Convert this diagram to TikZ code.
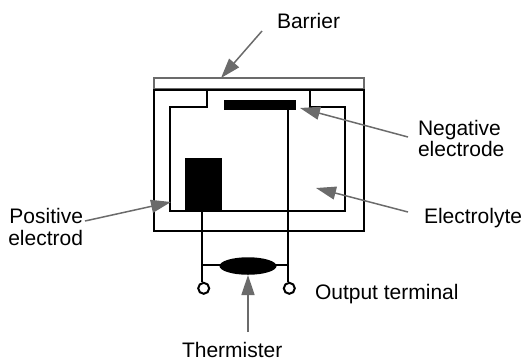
\documentclass[tikz,border=0pt]{standalone}
\usepackage{fontspec}
\setmainfont{Liberation Sans}
\usetikzlibrary{arrows.meta,shapes.geometric}
\definecolor{pointer}{gray}{0.42}
\tikzset{
  wire/.style={draw=black,line width=2pt},
  fillblack/.style={fill=black,draw=none},
  terminal/.style={circle,draw=black,line width=2pt,fill=white,minimum size=11pt,inner sep=0pt},
  pointerline/.style={draw=pointer,line width=1.5pt,-{Triangle[length=20pt,width=13pt,fill=pointer]}},
  lbl/.style={inner sep=0pt,outer sep=0pt,font=\fontsize{21}{21}\selectfont,text=black}
}
\begin{document}
\begin{tikzpicture}[x=1pt,y=-1pt]
\useasboundingbox (0,0) rectangle (523,360);
% barrier
\draw[draw=pointer,line width=1.6pt] (154,78) rectangle (364,88.5);
% outer case and inner cell
\draw[wire] (154,90) -- (364,90) -- (364,231) -- (154,231) -- cycle;
\draw[wire,line join=miter] (207,90) -- (207,107) -- (170,107) -- (170,211) -- (345,211) -- (345,107) -- (310,107) -- (310,90);
% electrodes
\node[fillblack,minimum width=72pt,minimum height=10pt,inner sep=0pt] (neg) at (260,104.5) {};
\node[fillblack,minimum width=37pt,minimum height=53pt,inner sep=0pt] (pos) at (203.5,184.5) {};
% terminals
\node[terminal] (tl) at (203.7,288.3) {};
\node[terminal] (tr) at (289.3,288.3) {};
% wires
\coordinate (jl) at (202.3,264.7);
\coordinate (jr) at (288.3,264.7);
\draw[wire] (pos.south -| jl) -- (jl) -- (jl |- tl.north);
\draw[wire] (neg.south -| jr) -- (jr) -- (jr |- tr.north);
\draw[wire] (jl) -- (jr);
\node[fillblack,ellipse,minimum width=57pt,minimum height=17.5pt,inner sep=0pt] (therm) at (248,266) {};
% labels
\node[lbl,anchor=base west] (barrier) at (277,28) {Barrier};
\node[lbl,anchor=base west] (negl) at (418,135) {Negative};
\node[lbl,anchor=base west] (negl2) at (418,156) {electrode};
\node[lbl,anchor=base west] (ely) at (424,223) {Electrolyte};
\node[lbl,anchor=base east] (posl) at (83,223) {Positive};
\node[lbl,anchor=base east] (posl2) at (83,245) {electrod};
\node[lbl,anchor=base west] (out) at (315,299) {Output terminal};
\node[lbl,anchor=base west] (thl) at (182,357) {Thermister};
% pointers
\coordinate (a1s) at (262,31); \coordinate (a1e) at (221,78);
\coordinate (a2s) at (408,137); \coordinate (a2e) at (300,108);
\coordinate (a3s) at (408,212); \coordinate (a3e) at (316,188);
\coordinate (a4s) at (85,221); \coordinate (a4e) at (171,202);
\coordinate (a5s) at (248,332); \coordinate (a5e) at (248,275);
\draw[pointerline] (a1s) -- (a1e);
\draw[pointerline] (a2s) -- (a2e);
\draw[pointerline] (a3s) -- (a3e);
\draw[pointerline] (a4s) -- (a4e);
\draw[pointerline] (a5s) -- (a5e);
\end{tikzpicture}
\end{document}
